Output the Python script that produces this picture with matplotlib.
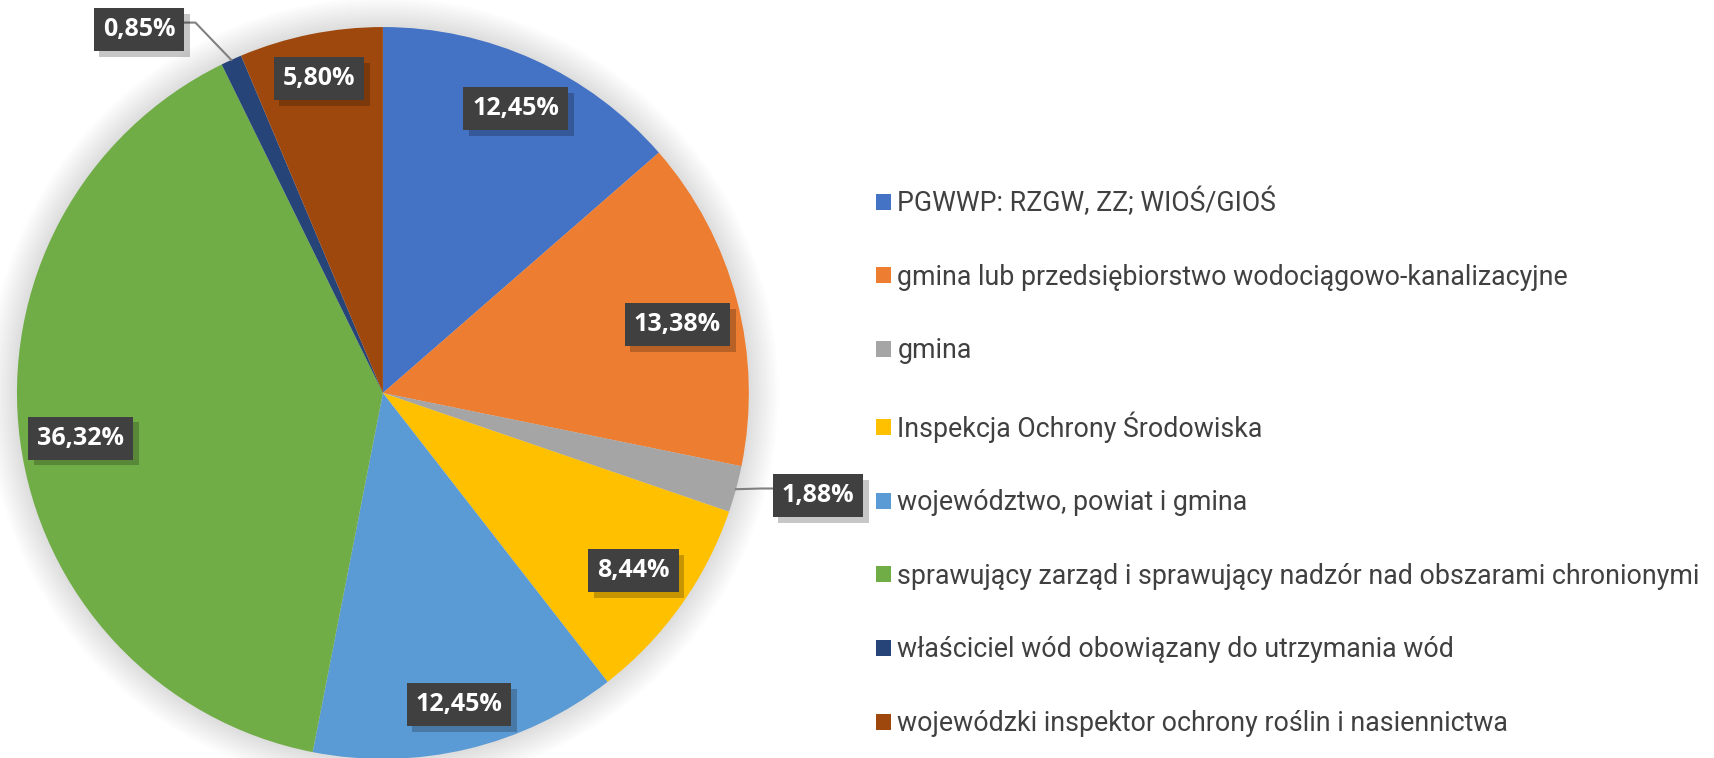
import numpy as np
import matplotlib
matplotlib.use("Agg")
import matplotlib.pyplot as plt
from matplotlib import patheffects
from matplotlib.patches import Circle

# dane
categories = [
    "PGWWP: RZGW, ZZ; WIOŚ/GIOŚ",
    "gmina lub przedsiębiorstwo wodociągowo-kanalizacyjne",
    "gmina",
    "Inspekcja Ochrony Środowiska",
    "województwo, powiat i gmina",
    "sprawujący zarząd i sprawujący nadzór nad obszarami chronionymi",
    "właściciel wód obowiązany do utrzymania wód",
    "wojewódzki inspektor ochrony roślin i nasiennictwa",
]
values = [12.45, 13.38, 1.88, 8.44, 12.45, 36.32, 0.85, 5.80]
value_labels = ["12,45%", "13,38%", "1,88%", "8,44%", "12,45%", "36,32%", "0,85%", "5,80%"]
colors = ["#4472C4", "#ED7D31", "#A5A5A5", "#FFC000", "#5B9BD5", "#70AD47", "#264478", "#9E480E"]

# label placement: radius and angle shift (deg) from slice middle, leader line flag
label_r = [0.857, 0.826, 1.222, 0.840, 0.877, 0.835, 1.195, 0.876]
label_shift = [-0.6, -1.75, 1.95, 0.2, 0.3, 1.0, 9.4, 0.1]
outside = [False, False, True, False, False, False, True, False]

fig = plt.figure(figsize=(17.14, 7.58), dpi=100)
ax = fig.add_axes([0.0099, -0.0013, 0.427, 0.9657])

# soft glow around the pie
for r in np.linspace(1.08, 1.0, 12):
    ax.add_patch(Circle((0, 0), r, color="#000000", alpha=0.011, lw=0, zorder=0, clip_on=False))

wedges, _ = ax.pie(values, colors=colors, startangle=90, counterclock=False,
                   radius=1.0, wedgeprops=dict(linewidth=0), frame=True)
ax.set_xlim(-1, 1)
ax.set_ylim(-1, 1)
ax.set_aspect("equal")
ax.axis("off")

labels = []
for w, lab, r, sh in zip(wedges, value_labels, label_r, label_shift):
    mid = np.deg2rad((w.theta1 + w.theta2) / 2 + sh)
    t = ax.text(r * np.cos(mid), r * np.sin(mid), lab, ha="center", va="center", color="white",
                fontsize=18, fontweight="bold", family=["Open Sans", "DejaVu Sans"],
                zorder=5, clip_on=False,
                bbox=dict(boxstyle="square,pad=0.36", facecolor="#404040", linewidth=0))
    t.get_bbox_patch().set_path_effects([
        patheffects.SimplePatchShadow(offset=(4, -4), shadow_rgbFace="#000000", alpha=0.22),
        patheffects.Normal()])
    labels.append(t)

# leader lines for the small slices
fig.canvas.draw()
inv = ax.transData.inverted()
for w, t, out in zip(wedges, labels, outside):
    if not out:
        continue
    midw = np.deg2rad((w.theta1 + w.theta2) / 2)
    ex, ey = np.cos(midw), np.sin(midw)
    bb = t.get_bbox_patch().get_window_extent()
    (x0, y0), (x1, y1) = inv.transform([[bb.x0, bb.y0], [bb.x1, bb.y1]])
    lx, ly = t.get_position()
    yline = ly + 0.02
    box_edge = x1 if lx < 0 else x0
    elbow = box_edge + (0.03 if lx < 0 else -0.03)
    ax.plot([ex, elbow, box_edge], [ey, yline, yline], color="#808080", lw=1.5, zorder=3,
            clip_on=False)

handles = [plt.Rectangle((0, 0), 1, 1, facecolor=c, edgecolor="none") for c in colors]
leg = fig.legend(handles, categories, loc="center left", bbox_to_anchor=(0.511, 0.39),
                 frameon=False, labelspacing=1.74, handlelength=0.55,
                 handleheight=0.55, handletextpad=0.25, borderpad=0, borderaxespad=0,
                 prop=dict(family=["Roboto", "DejaVu Sans"], size=19.3))
for txt in leg.get_texts():
    txt.set_color("#404040")

fig.savefig("out.png", dpi=100, facecolor="white")
